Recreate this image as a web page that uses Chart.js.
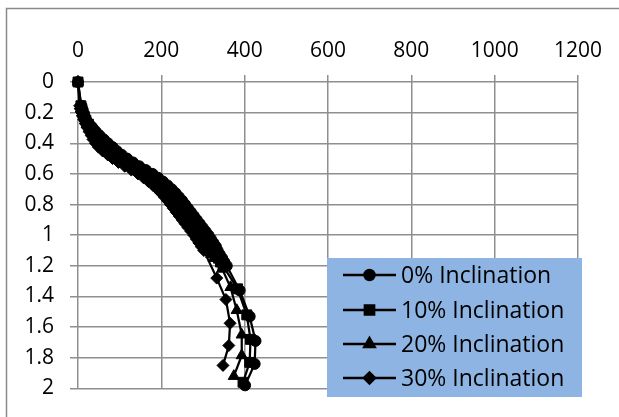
<!DOCTYPE html>
<html>
<head>
<meta charset="utf-8">
<script src="https://cdn.jsdelivr.net/npm/chart.js@4.4.1/dist/chart.umd.min.js"></script>
<style>
  html, body { margin: 0; padding: 0; background: #ffffff; }
  canvas { display: block; }
</style>
</head>
<body>
<canvas id="chart" width="619" height="417"></canvas>
<script>
// Series names
const seriesNames = ['0% Inclination', '10% Inclination', '20% Inclination', '30% Inclination'];

// Axis ticks
const xTicks = [0, 200, 400, 600, 800, 1000, 1200];
const yTicks = [0, 0.2, 0.4, 0.6, 0.8, 1, 1.2, 1.4, 1.6, 1.8, 2];

// 0% Inclination: depth and value
const depth0 = [0, 0.155, 0.175, 0.2, 0.225, 0.25, 0.275, 0.3, 0.325, 0.35, 0.375, 0.4, 0.425, 0.45, 0.475, 0.5, 0.525, 0.55, 0.575, 0.6, 0.625, 0.65, 0.675, 0.7, 0.725, 0.75, 0.775, 0.8, 0.825, 0.85, 0.875, 0.9, 0.925, 0.95, 0.975, 1.0, 1.025, 1.05, 1.075, 1.1, 1.125, 1.15, 1.175, 1.2, 1.36, 1.53, 1.69, 1.84, 1.98];
const value0 = [0, 8, 10, 13, 16, 20, 27, 35, 43, 52, 62, 72, 83, 93, 105, 118, 132, 147, 163, 179, 192, 204, 215, 225, 234, 242, 250, 257, 264, 271, 278, 285, 292, 299, 306, 313, 319, 325, 331, 335, 340, 346, 351, 357, 388, 412, 426, 424, 401];

// 10% Inclination
const depth10 = [0, 0.155, 0.175, 0.2, 0.225, 0.25, 0.275, 0.3, 0.325, 0.35, 0.375, 0.4, 0.425, 0.45, 0.475, 0.5, 0.525, 0.55, 0.575, 0.6, 0.625, 0.65, 0.675, 0.7, 0.725, 0.75, 0.775, 0.8, 0.825, 0.85, 0.875, 0.9, 0.925, 0.95, 0.975, 1.0, 1.025, 1.05, 1.075, 1.1, 1.125, 1.15, 1.175, 1.2, 1.35, 1.52, 1.68, 1.83, 1.96];
const value10 = [0, 7, 9, 12, 15, 19, 25, 31, 38, 46, 54, 63, 72, 82, 94, 107, 121, 136, 152, 168, 181, 193, 204, 214, 223, 231, 239, 246, 253, 260, 267, 274, 281, 288, 295, 302, 308, 314, 320, 325, 331, 337, 342, 348, 383, 405, 414, 412, 396];

// 20% Inclination
const depth20 = [0, 0.155, 0.175, 0.2, 0.225, 0.25, 0.275, 0.3, 0.325, 0.35, 0.375, 0.4, 0.425, 0.45, 0.475, 0.5, 0.525, 0.55, 0.575, 0.6, 0.625, 0.65, 0.675, 0.7, 0.725, 0.75, 0.775, 0.8, 0.825, 0.85, 0.875, 0.9, 0.925, 0.95, 0.975, 1.0, 1.025, 1.05, 1.075, 1.1, 1.125, 1.15, 1.22, 1.34, 1.49, 1.65, 1.785, 1.92];
const value20 = [0, 5, 7, 10, 13, 17, 21, 27, 32, 38, 44, 51, 60, 70, 82, 95, 109, 124, 140, 156, 169, 181, 192, 202, 211, 219, 227, 234, 241, 248, 255, 262, 269, 276, 283, 290, 296, 302, 308, 314, 320, 326, 346, 366, 381, 393, 393, 374];

// 30% Inclination
const depth30 = [0, 0.155, 0.175, 0.2, 0.225, 0.25, 0.275, 0.3, 0.325, 0.35, 0.375, 0.4, 0.425, 0.45, 0.475, 0.5, 0.525, 0.55, 0.575, 0.6, 0.625, 0.65, 0.675, 0.7, 0.725, 0.75, 0.775, 0.8, 0.825, 0.85, 0.875, 0.9, 0.925, 0.95, 0.975, 1.0, 1.025, 1.05, 1.075, 1.1, 1.28, 1.42, 1.575, 1.72, 1.85];
const value30 = [0, 4, 6, 9, 12, 16, 19, 23, 27, 32, 36, 42, 49, 59, 71, 83, 97, 112, 128, 144, 157, 169, 180, 190, 199, 207, 215, 222, 229, 236, 243, 250, 257, 264, 271, 278, 284, 290, 296, 302, 333, 355, 365, 362, 348];

const pointStyles = ['circle', 'rect', 'triangle', 'rectRot'];
const pointSizes = [5.5, 7, 6.5, 6];

function toPoints(depths, values) {
  return depths.map((d, i) => ({ x: values[i], y: d }));
}

const seriesData = [
  toPoints(depth0, value0),
  toPoints(depth10, value10),
  toPoints(depth20, value20),
  toPoints(depth30, value30)
];

const FONT = '"Open Sans", "Noto Sans", sans-serif';

// Outer frame (left and top edges visible)
const framePlugin = {
  id: 'frame',
  beforeDraw(chart) {
    const ctx = chart.ctx;
    ctx.save();
    ctx.fillStyle = '#ffffff';
    ctx.fillRect(0, 0, chart.width, chart.height);
    ctx.strokeStyle = '#8a8a8a';
    ctx.lineWidth = 1.5;
    ctx.beginPath();
    ctx.moveTo(6.5, chart.height);
    ctx.lineTo(6.5, 8.5);
    ctx.lineTo(chart.width, 8.5);
    ctx.stroke();
    ctx.restore();
  }
};

// Boxed legend inside the plot, lower right
const legendBoxPlugin = {
  id: 'legendBox',
  afterDraw(chart) {
    const ctx = chart.ctx;
    const bx = 327, by = 258, bw = 255, bh = 139;
    ctx.save();
    ctx.fillStyle = '#8db4e2';
    ctx.fillRect(bx, by, bw, bh);
    const rows = [275, 310, 344, 378];
    chart.data.datasets.forEach((ds, i) => {
      const y = rows[i];
      ctx.strokeStyle = '#000000';
      ctx.lineWidth = 2.5;
      ctx.beginPath();
      ctx.moveTo(343, y);
      ctx.lineTo(396, y);
      ctx.stroke();
      ctx.fillStyle = '#000000';
      Chart.helpers.drawPoint(ctx, {
        pointStyle: ds.pointStyle,
        radius: ds.pointRadius - 0.5,
        rotation: 0,
        borderWidth: 1
      }, 369.5, y);
      ctx.fill();
      ctx.fillStyle = '#000000';
      ctx.font = '23px ' + FONT;
      ctx.textAlign = 'left';
      ctx.textBaseline = 'middle';
      ctx.fillText(ds.label, 401, y + 1);
    });
    ctx.restore();
  }
};

new Chart(document.getElementById('chart'), {
  type: 'scatter',
  data: {
    datasets: seriesNames.map((name, i) => ({
      label: name,
      data: seriesData[i],
      showLine: true,
      clip: false,
      borderColor: '#000000',
      backgroundColor: '#000000',
      borderWidth: 2.25,
      pointStyle: pointStyles[i],
      pointRadius: pointSizes[i],
      pointBackgroundColor: '#000000',
      pointBorderColor: '#000000',
      pointBorderWidth: 1,
      order: 3 - i
    }))
  },
  options: {
    responsive: false,
    animation: false,
    devicePixelRatio: 1,
    layout: { padding: { left: 0, top: 0, right: 41, bottom: 20 } },
    plugins: {
      legend: { display: false },
      tooltip: { enabled: false }
    },
    scales: {
      x: {
        type: 'linear',
        position: 'top',
        min: 0,
        max: 1200,
        afterFit(scale) { scale.height = 82; },
        afterBuildTicks(scale) { scale.ticks = xTicks.map(v => ({ value: v })); },
        border: { display: false },
        grid: { color: '#8f8f8f', lineWidth: 1.5, tickLength: 7, drawTicks: true },
        ticks: {
          color: '#000000',
          padding: 11,
          maxRotation: 0,
          font: { family: FONT, size: 21 },
          callback: v => String(v)
        }
      },
      y: {
        type: 'linear',
        position: 'left',
        reverse: true,
        min: 0,
        max: 2,
        afterFit(scale) { scale.width = 78; },
        afterBuildTicks(scale) { scale.ticks = yTicks.map(v => ({ value: v })); },
        border: { display: false },
        grid: { color: '#8f8f8f', lineWidth: 1.5, tickLength: 8, drawTicks: true },
        ticks: {
          color: '#000000',
          padding: 16,
          font: { family: FONT, size: 21 },
          callback: v => String(Math.round(v * 10) / 10)
        }
      }
    }
  },
  plugins: [framePlugin, legendBoxPlugin]
});
</script>
</body>
</html>
